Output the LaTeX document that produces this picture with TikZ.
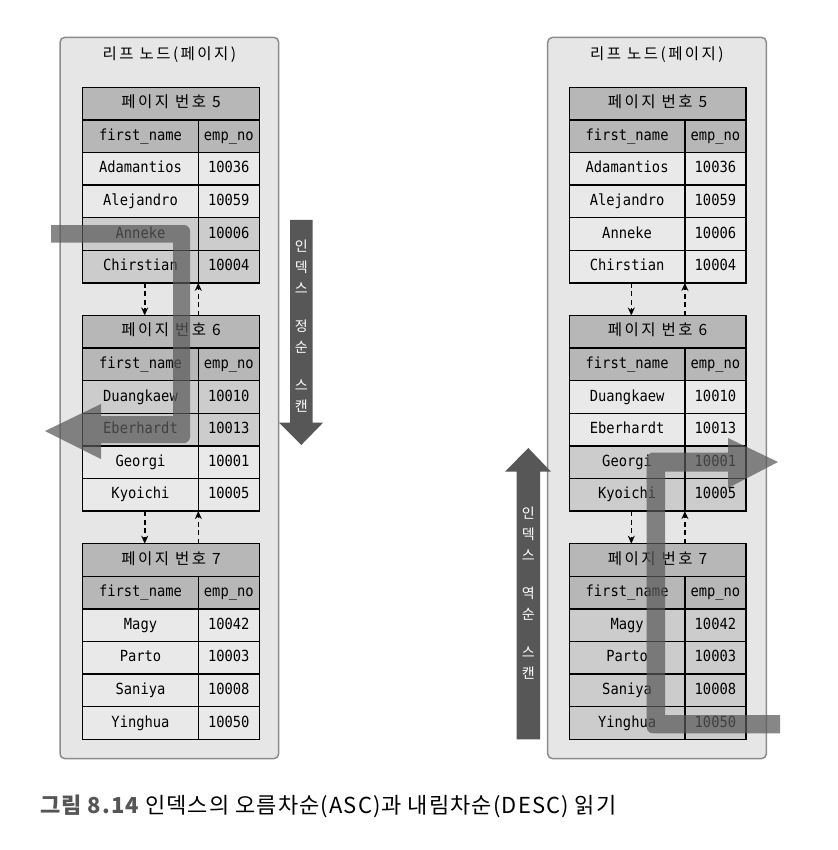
\documentclass[tikz,border=0pt]{standalone}
\usepackage{fontspec}
\newfontfamily\tblfont{DejaVu Sans Mono}[FakeStretch=0.9]
\newfontfamily\krfont{Noto Sans CJK KR}
\newfontfamily\krwide{Noto Sans CJK KR}[LetterSpace=16]
\newfontfamily\capfont{Noto Sans CJK KR}[LetterSpace=5]
\usetikzlibrary{arrows.meta}

\definecolor{boxfill}{HTML}{E6E6E6}
\definecolor{boxline}{HTML}{8C8C8C}
\definecolor{cellfill}{HTML}{E9E9E9}
\definecolor{hotfill}{HTML}{CCCCCC}
\definecolor{headfill}{HTML}{B7B7B7}
\definecolor{bandgray}{HTML}{5A5A5A}
\definecolor{arrowdark}{HTML}{575757}
\definecolor{capgray}{HTML}{555555}

\tikzset{
  cell/.style = {draw=black, line width=1.3pt, inner sep=0pt, outer sep=0pt, minimum height=32.6pt,
                 text height=11pt, text depth=3pt, font=\tblfont\fontsize{15.3}{18}\selectfont},
  titlecell/.style = {cell, fill=headfill, minimum width=176.6pt, font=\krwide\fontsize{15.5}{18}\selectfont},
  headcell/.style = {cell, fill=headfill},
  datacell/.style = {cell, fill=cellfill},
  hotcell/.style = {cell, fill=hotfill},
  namecol/.style = {minimum width=115.6pt},
  nocol/.style = {minimum width=61pt},
  leafbox/.style = {draw=boxline, fill=boxfill, line width=1.5pt, rounded corners=5pt,
                    minimum width=218.7pt, minimum height=721.4pt, inner sep=0pt, outer sep=0pt},
  leaftitle/.style = {font=\krwide\fontsize{15.5}{18}\selectfont, inner sep=0pt},
  pagelink/.style = {line width=1.6pt, dash pattern=on 5pt off 3.5pt,
                     -{Stealth[length=8pt, width=7pt]}},
  scanband/.style = {fill=bandgray, fill opacity=0.72},
  scanarrow/.style = {fill=arrowdark},
  scanlabel/.style = {text=white, align=center, inner sep=0pt,
                      font=\krfont\fontsize{14}{21}\selectfont}
}

% one page: title row, header row, four data rows
\newcommand\pagetbl[5]{%
  \node[titlecell, anchor=north west] (#1) at (#2,#3) {페이지 번호 #4};
  \node[headcell, namecol, anchor=north west] (#1-h1) at (#1.south west) {first\_name};
  \node[headcell, nocol, anchor=north west] (#1-h2) at (#1-h1.north east) {emp\_no};
  \foreach \nm/\no/\sty [count=\k] in {#5} {
    \node[\sty, namecol, anchor=north west] (#1-a\k) at ([yshift={-(\k-1)*32.6pt}]#1-h1.south west) {\nm};
    \node[\sty, nocol, anchor=north west] (#1-b\k) at (#1-a\k.north east) {\no};
  }
}

\begin{document}
\begin{tikzpicture}[x=1pt, y=-1pt]
  \useasboundingbox[fill=white] (0,0) rectangle (837,850);

  % leaf nodes
  \node[leafbox, anchor=north west] (leafL) at (60,37.3) {};
  \node[leafbox, anchor=north west] (leafR) at (547.7,37.3) {};
  \node[leaftitle] (leafL-t) at (169.4,55) {리프 노드(페이지)};
  \node[leaftitle] (leafR-t) at (656.9,55) {리프 노드(페이지)};

  % pages, left
  \pagetbl{tL5}{82.7}{87.3}{5}{Adamantios/10036/datacell, Alejandro/10059/datacell,
                               Anneke/10006/hotcell, Chirstian/10004/hotcell}
  \pagetbl{tL6}{82.7}{315.5}{6}{Duangkaew/10010/hotcell, Eberhardt/10013/hotcell,
                                Georgi/10001/datacell, Kyoichi/10005/datacell}
  \pagetbl{tL7}{82.7}{543.7}{7}{Magy/10042/datacell, Parto/10003/datacell,
                                Saniya/10008/datacell, Yinghua/10050/datacell}
  % pages, right
  \pagetbl{tR5}{569.3}{87.3}{5}{Adamantios/10036/datacell, Alejandro/10059/datacell,
                                Anneke/10006/datacell, Chirstian/10004/datacell}
  \pagetbl{tR6}{569.3}{315.5}{6}{Duangkaew/10010/datacell, Eberhardt/10013/datacell,
                                 Georgi/10001/hotcell, Kyoichi/10005/hotcell}
  \pagetbl{tR7}{569.3}{543.7}{7}{Magy/10042/hotcell, Parto/10003/hotcell,
                                 Saniya/10008/hotcell, Yinghua/10050/hotcell}

  % links between pages
  \foreach \s in {L, R} {
    \draw[pagelink] ([xshift=62pt]t\s5-a4.south west) -- ([xshift=62pt]t\s6.north west);
    \draw[pagelink] ([xshift=115.6pt]t\s6.north west) -- (t\s5-a4.south east);
    \draw[pagelink] ([xshift=62pt]t\s6-a4.south west) -- ([xshift=62pt]t\s7.north west);
    \draw[pagelink] ([xshift=115.6pt]t\s7.north west) -- (t\s6-a4.south east);
  }

  % scan paths
  \fill[scanband] (51,225) -- (180,225) [rounded corners=6pt] -- (190,225) -- (190,443)
    -- (180,443) [sharp corners] -- (101,443) -- (101,459) -- (45,431) -- (101,404)
    -- (101,416) -- (173,416) -- (173,242.7) -- (51,242.7) -- cycle;
  \fill[scanband] (780,733.3) -- (656,733.3) [rounded corners=6pt] -- (646.7,733.3)
    -- (646.7,452.7) -- (656,452.7) [sharp corners] -- (728,452.7) -- (728,438)
    -- (778,462) -- (728,488) -- (728,471.7) -- (665,471.7) -- (665,715)
    -- (780,715) -- cycle;

  % scan direction arrows
  \fill[scanarrow] (290,220) -- (312.7,220) -- (312.7,422.7) -- (323,422.7) -- (301.3,445)
    -- (279,422.7) -- (290,422.7) -- cycle;
  \node[scanlabel] (asclabel) at (301.3,326.5) {인\\덱\\스\\[17pt]정\\순\\[17pt]스\\캔};
  \fill[scanarrow] (516.7,739.3) -- (540,739.3) -- (540,471.7) -- (551,471.7) -- (528.3,448)
    -- (505,471.7) -- (516.7,471.7) -- cycle;
  \node[scanlabel] (desclabel) at (528.3,593) {인\\덱\\스\\[17pt]역\\순\\[17pt]스\\캔};

  % caption
  \node[anchor=west, inner sep=0pt, font=\capfont\fontsize{22}{25}\selectfont] (caption) at (40,806)
    {\textcolor{capgray}{\bfseries 그림 8.14} 인덱스의 오름차순(ASC)과 내림차순(DESC) 읽기};
\end{tikzpicture}
\end{document}
